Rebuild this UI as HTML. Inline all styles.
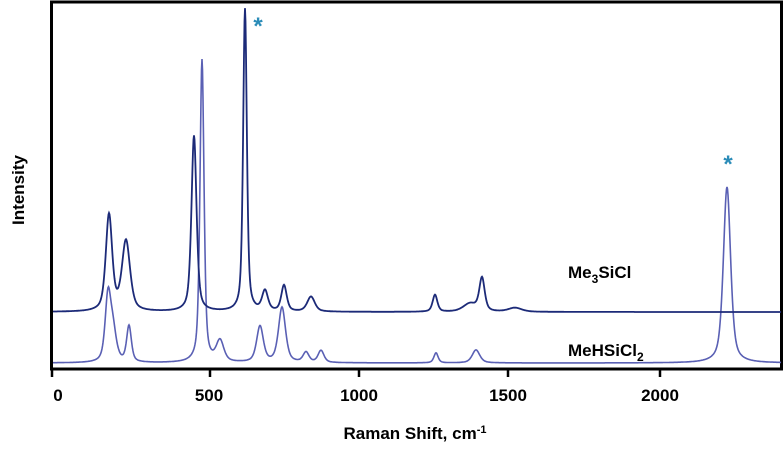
<!DOCTYPE html>
<html><head><meta charset="utf-8"><style>
body{margin:0;background:#fff;width:784px;height:447px;overflow:hidden}
svg text{font-family:"Liberation Sans",Arial,sans-serif;font-weight:bold}
</style></head><body>
<svg id="s" width="784" height="447" viewBox="0 0 784 447" xmlns="http://www.w3.org/2000/svg">
<rect x="51.5" y="2" width="730" height="367" fill="none" stroke="#000" stroke-width="3"/>
<g stroke="#000" stroke-width="2.5">
<line x1="52" y1="369" x2="52" y2="377"/><line x1="210" y1="369" x2="210" y2="377"/>
<line x1="359" y1="369" x2="359" y2="377"/><line x1="508" y1="369" x2="508" y2="377"/>
<line x1="660" y1="369" x2="660" y2="377"/>
</g>
<g font-size="17" text-anchor="middle" fill="#000">
<text x="58" y="401">0</text><text x="209" y="401">500</text><text x="359" y="401">1000</text>
<text x="508" y="401">1500</text><text x="660" y="401">2000</text>
</g>
<text x="415" y="439" font-size="17" text-anchor="middle">Raman Shift, cm<tspan dy="-6" font-size="11">-1</tspan></text>
<text transform="translate(24,190) rotate(-90)" font-size="17" text-anchor="middle">Intensity</text>
<text x="568" y="278" font-size="17">Me<tspan dy="5" font-size="12">3</tspan><tspan dy="-5">SiCl</tspan></text>
<text x="568" y="356" font-size="17">MeHSiCl<tspan dy="5" font-size="12">2</tspan></text>
<text x="258" y="34" font-size="24" fill="#2b8cb8" text-anchor="middle">*</text>
<text x="728" y="172" font-size="24" fill="#2b8cb8" text-anchor="middle">*</text>
<path id="lo" fill="none" stroke="#5a60b4" stroke-width="1.6"/>
<path id="up" fill="none" stroke="#1c2a78" stroke-width="1.8"/>
</svg>
<script>
function build(base,peaks,x0,x1){
 var d="";
 for(var x=x0;x<=x1;x+=0.5){
  var y=0;
  for(var i=0;i<peaks.length;i++){var p=peaks[i];var t=(x-p[0])/p[2];y+=p[1]*(0.55/(1+t*t)+0.45*Math.exp(-0.693*t*t));}
  d+=(x==x0?"M":"L")+x.toFixed(1)+","+(base-y).toFixed(1);
 }
 return d;
}
var up=[[109,96,3.8],[126,70,4.8],[194,176,3],[245,303,2.2],[265,20,3.5],[284,26,3.2],[311,15,4.5],[435,17,2.8],[470,8,8],[482,33,3.2],[515,4,8]];
var lo=[[108,64,3.4],[113,30,4],[129,36,2.8],[202,303,2.4],[220,21,4.5],[260,36,4],[282,55,4.2],[306,10,3.5],[321,12,3.5],[436,10,2.5],[476,13,4.5],[727,176,4.3]];
document.getElementById("up").setAttribute("d",build(312,up,53,781));
document.getElementById("lo").setAttribute("d",build(363,lo,53,781));
</script>
</body></html>
